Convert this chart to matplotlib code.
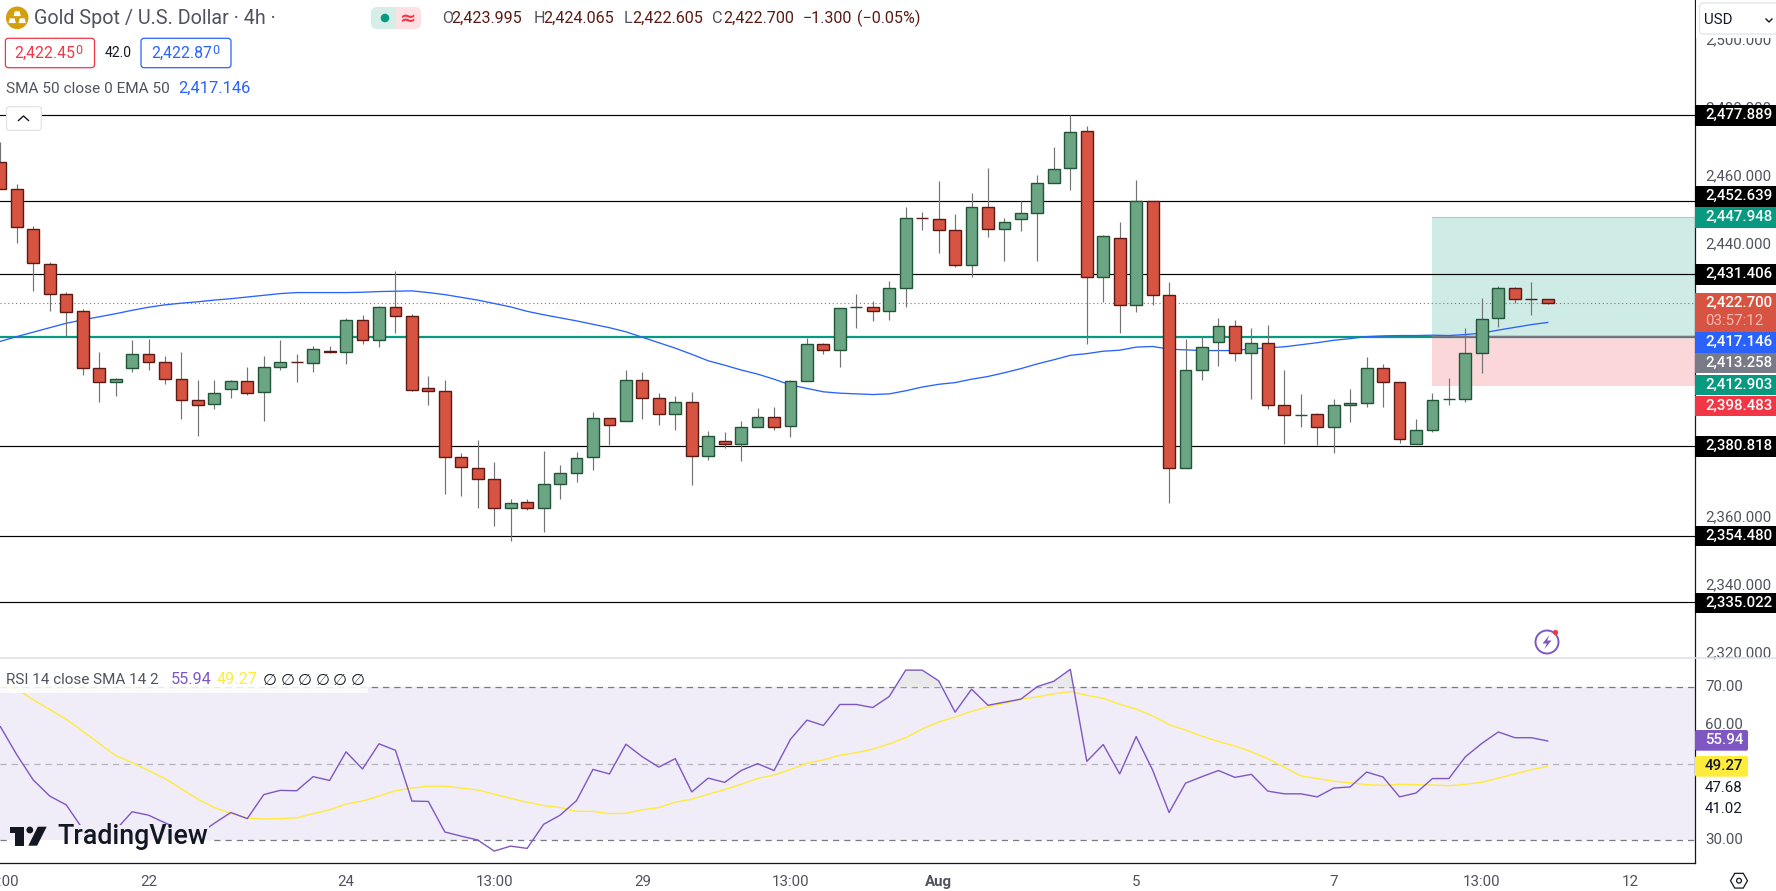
import matplotlib
matplotlib.use('Agg')
import matplotlib.pyplot as plt
from matplotlib.patches import Rectangle, FancyBboxPatch, Circle, Polygon, RegularPolygon
from matplotlib.transforms import ScaledTranslation

plt.rcParams['font.family'] = ['Roboto', 'DejaVu Sans']

W, H = 1776, 891

# Du lieu nen 4h
opens = [2464.1,2456.2,2444.4,2434.2,2425.4,2420.4,2403.7,2399.6,2403.7,2407.8,
         2405.4,2400.7,2394.3,2393.1,2397.5,2399.9,2396.6,2404.0,2405.5,2405.2,
         2408.7,2408.4,2417.8,2411.9,2421.6,2418.9,2397.8,2396.9,2377.6,2374.4,
         2371.1,2362.6,2364.4,2362.6,2369.7,2372.9,2377.6,2389.0,2388.1,2400.2,
         2394.9,2390.2,2393.7,2378.1,2382.3,2381.6,2386.4,2389.3,2386.7,2399.9,
         2410.7,2409.0,2421.6,2421.7,2420.4,2427.1,2447.8,2447.4,2444.2,2433.9,
         2450.9,2444.4,2447.4,2449.1,2457.9,2462.3,2473.2,2430.4,2441.8,2422.2,
         2452.7,2425.1,2374.6,2403.1,2411.3,2416.0,2408.1,2411.0,2392.8,2389.9,
         2390.2,2386.4,2392.8,2393.4,2403.7,2399.6,2381.4,2385.5,2394.6,2394.6,
         2408.1,2418.3,2427.1,2424.0,2423.995]
highs = [2470.2,2457.7,2445.3,2434.9,2426.0,2421.1,2408.5,2400.8,2412.0,2412.3,
         2407.3,2408.5,2400.3,2400.3,2400.3,2404.1,2407.3,2412.0,2407.9,2410.2,
         2410.2,2418.4,2419.3,2422.0,2432.2,2419.6,2401.4,2400.3,2378.8,2382.7,
         2376.2,2365.4,2365.4,2379.4,2375.3,2379.1,2390.9,2389.0,2403.2,2402.5,
         2396.5,2395.5,2396.7,2385.3,2385.0,2388.2,2392.1,2392.3,2400.3,2412.6,
         2411.0,2421.3,2425.5,2423.4,2429.3,2451.0,2449.5,2458.6,2448.9,2455.1,
         2462.4,2447.7,2452.7,2460.4,2468.6,2477.9,2474.7,2442.7,2446.6,2458.9,
         2452.7,2429.0,2412.3,2412.8,2418.4,2417.8,2415.5,2416.4,2403.2,2396.2,
         2390.5,2394.7,2397.6,2407.0,2405.0,2399.6,2388.8,2396.5,2400.8,2415.5,
         2424.3,2427.8,2427.5,2429.0,2424.065]
lows = [2456.2,2440.5,2426.5,2420.6,2413.2,2401.8,2393.9,2395.6,2402.7,2403.3,
        2399.2,2388.9,2383.9,2391.9,2395.1,2396.0,2388.3,2403.3,2399.8,2402.7,
        2408.1,2405.1,2410.9,2410.0,2413.9,2396.9,2393.0,2366.9,2366.1,2362.8,
        2357.5,2353.1,2362.2,2355.8,2365.4,2370.4,2373.9,2381.2,2388.1,2388.9,
        2387.2,2385.7,2369.5,2376.8,2380.3,2376.5,2386.4,2385.7,2383.6,2399.9,
        2408.0,2404.2,2415.6,2417.7,2418.0,2421.8,2444.3,2437.6,2433.5,2430.6,
        2442.3,2435.3,2444.1,2435.3,2457.9,2456.1,2410.9,2423.2,2413.9,2420.3,
        2422.4,2364.3,2374.6,2400.3,2404.4,2405.8,2394.7,2391.9,2381.6,2386.6,
        2381.3,2379.0,2388.0,2392.4,2392.2,2381.9,2381.4,2385.1,2392.8,2393.9,
        2402.4,2415.8,2422.7,2419.3,2422.605]
closes = [2456.2,2445.2,2434.5,2425.4,2420.3,2403.7,2399.6,2400.7,2407.8,2405.4,
          2400.7,2394.3,2392.8,2396.4,2399.9,2396.4,2404.0,2405.4,2405.4,2409.5,
          2408.4,2417.8,2411.9,2421.6,2418.9,2397.2,2396.9,2377.6,2374.7,2371.1,
          2362.6,2364.1,2362.6,2369.7,2372.9,2377.3,2389.0,2387.0,2400.2,2394.9,
          2390.2,2393.7,2378.1,2383.7,2381.6,2386.4,2389.3,2386.4,2399.9,2410.7,
          2409.0,2421.3,2421.6,2420.4,2427.1,2447.7,2447.7,2444.2,2433.9,2450.9,
          2444.4,2446.5,2449.1,2457.9,2462.0,2472.9,2430.4,2442.4,2422.2,2452.7,
          2425.1,2374.4,2403.1,2409.8,2416.0,2408.1,2411.0,2392.8,2389.9,2389.9,
          2386.4,2392.8,2393.4,2403.7,2399.6,2382.9,2385.5,2394.3,2394.6,2408.1,
          2418.1,2427.1,2423.9,2423.9,2422.7]
ema50 = [2411.6,2413.0,2414.3,2415.6,2416.9,2417.9,2418.8,2419.7,2420.7,2421.6,
         2422.3,2422.8,2423.2,2423.7,2424.1,2424.6,2425.1,2425.6,2425.9,2425.9,
         2425.9,2425.9,2426.0,2426.2,2426.3,2426.4,2425.9,2425.3,2424.5,2423.7,
         2422.7,2421.7,2420.4,2419.4,2418.5,2417.6,2416.6,2415.6,2414.4,2412.8,
         2411.2,2409.6,2407.8,2405.9,2404.6,2403.2,2402.0,2400.5,2398.8,2397.8,
         2396.8,2396.4,2396.2,2396.0,2396.2,2397.1,2398.2,2399.0,2399.5,2400.5,
         2401.3,2402.4,2403.6,2405.0,2406.2,2407.5,2408.0,2408.7,2409.0,2409.9,
         2410.1,2409.3,2409.1,2408.9,2408.9,2408.9,2409.4,2409.7,2410.0,2410.6,
         2411.2,2411.9,2412.4,2413.0,2413.2,2413.3,2413.3,2413.4,2413.3,2413.6,
         2414.0,2414.9,2415.7,2416.5,2417.146]

# RSI
rsi = [59.7,52.3,45.7,41.5,39.2,32.9,30.0,32.6,37.4,36.5,
       34.5,32.6,31.3,34.4,37.2,35.6,41.9,43.0,42.9,46.6,
       45.6,53.1,48.6,55.2,53.5,40.2,40.1,32.1,31.0,30.0,
       27.1,28.4,27.8,34.1,36.5,40.3,48.5,47.3,55.1,51.8,
       49.1,51.3,42.6,46.2,45.1,48.2,50.0,48.2,56.4,61.4,
       60.0,65.5,65.5,64.7,67.6,74.5,74.5,71.7,63.5,69.5,
       65.3,66.1,66.9,70.2,71.6,74.7,50.6,55.0,47.3,57.1,
       48.3,37.2,44.9,46.6,48.2,46.4,47.2,42.8,42.1,42.1,
       41.3,43.6,43.9,47.8,46.5,41.3,42.3,46.1,46.1,51.8,
       55.3,58.3,56.8,56.8,55.94]
rsi_ma = [70.9,69.5,66.7,64.2,61.6,58.5,55.3,52.1,50.3,48.2,
          46.1,43.4,40.7,38.5,37.0,35.7,35.5,35.6,35.8,36.9,
          37.9,39.4,40.2,41.5,42.9,43.6,44.1,44.1,43.6,43.1,
          42.0,40.9,39.9,39.0,38.5,37.5,37.5,36.9,37.0,37.9,
          38.5,39.9,40.7,42.0,43.2,44.6,46.1,47.0,48.5,50.1,
          51.0,52.2,52.9,53.8,55.2,56.8,59.1,60.9,62.2,63.7,
          64.9,65.8,66.9,67.5,68.3,68.9,67.9,67.1,65.6,64.3,
          62.5,60.2,58.8,57.2,55.8,54.6,53.1,51.3,49.1,46.8,
          46.1,45.4,45.0,44.5,44.3,44.6,44.5,44.4,44.2,44.6,
          45.1,46.2,47.3,48.4,49.27]

levels = [2477.889, 2452.639, 2431.406, 2380.818, 2354.480, 2335.022]
stop_line = 2412.903
last_price = 2422.700
pos_top, pos_entry, pos_bottom = 2447.948, 2413.258, 2398.483
pos_start = 87

price_ticks = [2320, 2340, 2360, 2440, 2460, 2480, 2500]
rsi_ticks = [30, 60, 70]
rsi_band = [30, 50, 70]
time_pos = [0, 9, 21, 30, 39, 48, 57, 69, 81, 90, 99]
time_labels = ['13:00', '22', '24', '13:00', '29', '13:00', 'Aug', '5', '7', '13:00', '12']

# nhan gia ben phai: text, mau nen, tam y (px)
tags = [('2,477.889', '#000000', 115.3), ('2,452.639', '#000000', 196.3),
        ('2,447.948', '#089981', 217.3), ('2,431.406', '#000000', 274.3),
        ('2,417.146', '#2962ff', 342.3), ('2,413.258', '#787b86', 363.0),
        ('2,412.903', '#089981', 385.0), ('2,398.483', '#f23645', 406.0),
        ('2,380.818', '#000000', 446.3), ('2,354.480', '#000000', 536.0),
        ('2,335.022', '#000000', 603.0)]

UP, DOWN = '#6ba583', '#d75442'
UP_EDGE, DOWN_EDGE = '#225437', '#5b1a13'
WICK = '#737375'
TXT = '#50535e'
AXIS_X = 1694.5
SEP_Y, TIME_Y = 658.3, 863.3

fig = plt.figure(figsize=(W / 100, H / 100), dpi=100, facecolor='white')
ax = fig.add_axes([0, 1 - SEP_Y / H, AXIS_X / W, SEP_Y / H])
ax2 = fig.add_axes([0, 1 - TIME_Y / H, AXIS_X / W, (TIME_Y - SEP_Y) / H])
ov = fig.add_axes([0, 0, 1, 1], zorder=10)
ov.set_xlim(0, W)
ov.set_ylim(H, 0)
ov.axis('off')
ov.patch.set_alpha(0)

xlim = (-0.024, 102.92)

# --- Khung gia ---
n = len(closes)
idx = list(range(n))
ax.axhspan(pos_entry, pos_top, xmin=(pos_start - xlim[0]) / (xlim[1] - xlim[0]), color='#cfebe5', lw=0, zorder=1)
ax.axhspan(pos_bottom, pos_entry, xmin=(pos_start - xlim[0]) / (xlim[1] - xlim[0]), color='#fcd7da', lw=0, zorder=1)
ax.plot([pos_start, xlim[1]], [pos_top, pos_top], color='#9fd6cb', lw=0.8, zorder=1.5)
for lv in levels:
    ax.axhline(lv, color='black', lw=0.85, zorder=2)
ax.axhline(stop_line, color='#089981', lw=1.6, zorder=2)
ax.plot([pos_start, xlim[1]], [pos_entry, pos_entry], color='#787b86', lw=1, zorder=2.1)
ax.axhline(last_price, color=DOWN, lw=0.8, ls=(0, (1, 2.5)), zorder=2.2)
ax.plot(idx, ema50, color='#2962ff', lw=0.95, zorder=3)

ax.vlines(idx, lows, highs, color=WICK, lw=0.85, zorder=4)
for i in idx:
    up = closes[i] >= opens[i]
    bottom = min(opens[i], closes[i])
    height = abs(closes[i] - opens[i])
    ax.bar(i, height, bottom=bottom, width=0.72, color=UP if up else DOWN,
           edgecolor=UP_EDGE if up else DOWN_EDGE, linewidth=1.0, zorder=5)

ax.set_xlim(xlim)
ax.set_ylim(2511.7 - SEP_Y / 3.41, 2511.7)
ax.set_xticks([])
ax.yaxis.tick_right()
ax.set_yticks(price_ticks)
ax.set_yticklabels([f'{v:,.3f}' for v in price_ticks], color=TXT, fontsize=10.8)
ax.tick_params(axis='y', length=0, pad=7.5)
for s in ['top', 'left', 'bottom']:
    ax.spines[s].set_visible(False)
ax.spines['right'].set_color('#131722')
ax.spines['right'].set_linewidth(0.9)

# --- Khung RSI ---
ax2.axhspan(rsi_band[0], rsi_band[2], color='#f0ecf8', lw=0, zorder=1)
for v in rsi_band:
    ax2.axhline(v, color='#787b86' if v != 50 else '#b5b3bf', lw=0.9, ls=(0, (5, 4)), zorder=2)
ax2.fill_between(idx, 70, rsi, where=[r > 70 for r in rsi], interpolate=True, color='#e9e9eb', lw=0, zorder=2)
ax2.plot(idx, rsi_ma, color='#ffeb3b', lw=1.0, zorder=3)
ax2.plot(idx, rsi, color='#7e57c2', lw=1.0, zorder=4)
ax2.set_xlim(xlim)
ax2.set_ylim(30 - (TIME_Y - 840) / 3.8175, 70 + (687.3 - SEP_Y) / 3.8175)
ax2.yaxis.tick_right()
ax2.set_yticks(rsi_ticks)
ax2.set_yticklabels([f'{v:.2f}' for v in rsi_ticks], color=TXT, fontsize=10.8)
ax2.tick_params(axis='y', length=0, pad=7.5)
ax2.set_xticks(time_pos)
ax2.set_xticklabels(time_labels, color=TXT, fontsize=10.8)
ax2.tick_params(axis='x', length=0, pad=8.4)
for lab in ax2.get_xticklabels():
    if lab.get_text() == 'Aug':
        lab.set_fontweight('bold')
for s in ['top', 'left']:
    ax2.spines[s].set_visible(False)
for s in ['right', 'bottom']:
    ax2.spines[s].set_color('#131722')
    ax2.spines[s].set_linewidth(0.9)

# nhan truc gia nam cao hon vach mot chut
shift = ScaledTranslation(0, 1.5 / 100, fig.dpi_scale_trans)
for a in [ax, ax2]:
    for lab in a.get_yticklabels():
        lab.set_transform(lab.get_transform() + shift)

# --- Overlay: tieu de, nhan, icon ---
ov.plot([0, W], [SEP_Y, SEP_Y], color='#e0e3eb', lw=1.2, zorder=1)


def rbox(x0, y0, x1, y1, fc, ec, r=3, lw=0.9, z=3):
    ov.add_patch(FancyBboxPatch((x0 + r, y0 + r), x1 - x0 - 2 * r, y1 - y0 - 2 * r,
                                boxstyle=f'round,pad={r}', fc=fc, ec=ec, lw=lw, zorder=z))


def txt(x, y, s, color=TXT, size=10.8, ha='left', z=6, **kw):
    return ov.text(x, y, s, color=color, fontsize=size, ha=ha, va='center', zorder=z, **kw)


# Logo vang
ov.add_patch(Circle((17.2, 17.8), 11.3, fc='#d49f0c', ec='none', zorder=4))
for bx, by in [(17.2, 13.5), (12.2, 20.5), (22.2, 20.5)]:
    ov.add_patch(Polygon([(bx - 3.6, by + 2.6), (bx + 3.6, by + 2.6), (bx + 2.4, by - 2.2), (bx - 2.4, by - 2.2)],
                         fc='white', ec='none', zorder=5))
txt(33.7, 19, 'Gold Spot / U.S. Dollar · 4h ·', color='#50535e', size=14.2)

# Trang thai
rbox(371, 7, 397, 29, '#d5eee8', 'none', r=6, lw=0)
rbox(395, 7, 421, 29, '#fde0e3', 'none', r=6, lw=0)
ov.add_patch(Rectangle((391, 7), 5, 22, fc='#d5eee8', ec='none', zorder=3.2))
ov.add_patch(Rectangle((396, 7), 5, 22, fc='#fde0e3', ec='none', zorder=3.2))
ov.add_patch(Circle((385, 18), 4.3, fc='#089981', ec='none', zorder=5))
txt(408, 18, '≈', color='#f23645', size=14, ha='center', family=['DejaVu Sans'], weight='bold')

# OHLC
for x, s in [(442, 'O'), (534, 'H'), (623.7, 'L'), (712, 'C')]:
    txt(x, 18.7, s, color=TXT, size=11.6)
for x, s in [(451, '2,423.995'), (543.4, '2,424.065'), (632.5, '2,422.605'), (723, '2,422.700'),
             (803, '−1.300'), (857, '(−0.05%)')]:
    txt(x, 18.7, s, color=DOWN_EDGE, size=11.6)

# Buy / sell
rbox(5.4, 38.3, 94.5, 67.7, 'white', '#f23645')
txt(14.5, 53.5, '2,422.45', color='#f23645', size=11.4)
txt(75, 51, '0', color='#f23645', size=9)
txt(105, 53, '42.0', color='#131722', size=10)
rbox(141, 38.3, 231, 67.7, 'white', '#2962ff')
txt(151.5, 53.5, '2,422.87', color='#2962ff', size=11.4)
txt(212, 51, '0', color='#2962ff', size=9)

txt(6, 88.7, 'SMA 50 close 0 EMA 50', size=11.1)
txt(178.3, 88.7, '2,417.146', color='#2962ff', size=11.8)

# Nut thu gon
rbox(6.5, 106.7, 41.3, 130.3, 'white', '#e0e3eb', r=2.5)
ov.plot([18.5, 23.5, 28.5], [120.5, 116, 120.5], color='#131722', lw=1, zorder=6)

# USD
ov.add_patch(Rectangle((1696, 0), W - 1696, 38, fc='white', ec='none', zorder=2))
rbox(1699.5, 3, 1785, 34, 'white', '#e0e3eb', r=4)
txt(1704, 20, 'USD', color='#131722', size=10.8)
ov.plot([1766, 1769, 1772], [19, 22, 19], color='#131722', lw=1, zorder=6)

# Nhan gia
for s, c, y in tags:
    ov.add_patch(Rectangle((AXIS_X + 0.5, y - 10.4), W - AXIS_X, 20.8, fc=c, ec='none', zorder=4))
    txt(1705, y, s, color='white', weight='medium', z=7)
ov.add_patch(Rectangle((AXIS_X + 0.5, 293), W - AXIS_X, 39, fc=DOWN, ec='none', zorder=4))
txt(1705, 302.7, '2,422.700', color='white', z=7, weight='medium')
txt(1705, 320.7, '03:57:12', color='#f3b9b3', z=7)

# Nhan RSI
rbox(AXIS_X + 0.5, 730, 1748, 750.7, '#7e57c2', 'none', r=2, lw=0, z=4)
txt(1705, 740.3, '55.94', color='white', weight='medium', z=7)
rbox(AXIS_X + 0.5, 756, 1748, 776.7, '#ffeb3b', 'none', r=2, lw=0, z=4)
txt(1705, 766.5, '49.27', color='#131722', z=7, weight='medium')
txt(1705, 787.7, '47.68', color='#131722', z=7)
txt(1705, 809, '41.02', color='#131722', z=7)

# Chu giai RSI
ov.add_patch(Rectangle((0, 670), 368, 23, fc='white', ec='none', alpha=0.85, zorder=2))
txt(6, 680, 'RSI 14 close SMA 14 2', size=11)
txt(170.3, 680, '55.94', color='#7e57c2', size=11.7)
txt(217, 680, '49.27', color='#ffeb3b', size=11.7)
for x in [270, 288, 305, 323, 340, 358]:
    txt(x, 680, '∅', color='#131722', ha='center', size=11.5, family=['DejaVu Sans'])

# Logo TradingView
ov.add_patch(Rectangle((9, 825), 200, 15, fc='#f0ecf8', ec='none', zorder=3))
ov.add_patch(Rectangle((9, 840), 200, 7, fc='white', ec='none', zorder=3))
ov.add_patch(Polygon([(9.6, 826.7), (23.7, 826.7), (23.7, 845.7), (15.3, 845.7), (15.3, 833.3), (9.6, 833.3)],
                     fc='#131722', ec='none', zorder=5))
ov.add_patch(Circle((29.8, 830), 3.4, fc='#131722', ec='none', zorder=5))
ov.add_patch(Polygon([(37.8, 826.7), (46.7, 826.7), (37.1, 845.7), (28.3, 845.7)], fc='#131722', ec='none', zorder=5))
txt(57.4, 836.5, 'TradingView', color='#131722', size=19.3, weight='medium')

# Icon tia set
ov.add_patch(Circle((1547, 642), 11.5, fc='white', ec='#7e57c2', lw=1.4, zorder=4))
ov.add_patch(Polygon([(1549.5, 635), (1542.5, 643.5), (1546.8, 643.5), (1544.5, 649), (1551.5, 640.5), (1547.2, 640.5)],
                     fc='#7e57c2', ec='none', zorder=5))
ov.add_patch(Circle((1555.5, 632.5), 2.6, fc='#f23645', ec='none', zorder=5))

# Icon cai dat
ov.add_patch(RegularPolygon((1739, 880.7), 6, radius=8.5, orientation=0.5236, fc='white', ec='#131722', lw=0.9, zorder=5))
ov.add_patch(Circle((1739, 880.7), 2.4, fc='white', ec='#131722', lw=0.9, zorder=6))

plt.savefig('out.png', dpi=100, facecolor='white')
plt.close(fig)
